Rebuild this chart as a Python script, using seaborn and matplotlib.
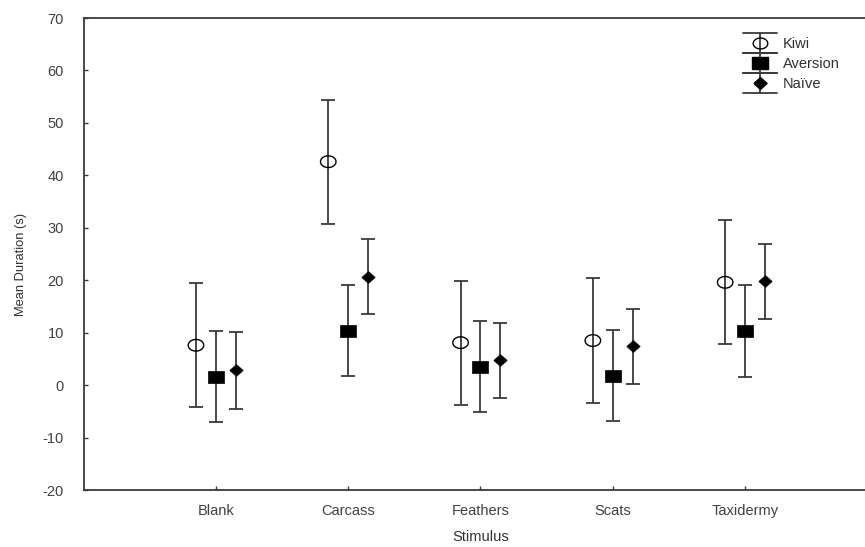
import numpy as np
import pandas as pd
import matplotlib
matplotlib.use("Agg")
import matplotlib.pyplot as plt
import seaborn as sns
from matplotlib.legend_handler import HandlerBase
from matplotlib.lines import Line2D

stimuli = ["Blank", "Carcass", "Feathers", "Scats", "Taxidermy"]
groups = ["Kiwi", "Aversion", "Naïve"]

kiwi_mean = [7.6, 42.6, 8.1, 8.5, 19.6]
kiwi_err = [11.8, 11.8, 11.8, 11.9, 11.8]
aversion_mean = [1.6, 10.4, 3.5, 1.8, 10.3]
aversion_err = [8.7, 8.7, 8.7, 8.7, 8.7]
naive_mean = [2.8, 20.7, 4.7, 7.4, 19.8]
naive_err = [7.3, 7.2, 7.1, 7.2, 7.2]

means = {"Kiwi": kiwi_mean, "Aversion": aversion_mean, "Naïve": naive_mean}
errs = {"Kiwi": kiwi_err, "Aversion": aversion_err, "Naïve": naive_err}

sns.set_theme(style="ticks")
plt.rcParams["font.family"] = ["Liberation Sans", "DejaVu Sans"]
plt.rcParams["axes.unicode_minus"] = False

INK = "#3a3a3a"

# slightly wide marker shapes
t = np.linspace(0, 2 * np.pi, 41)
ellipse = np.column_stack([np.cos(t), 0.75 * np.sin(t)])
rect = np.array([[-1, -0.75], [1, -0.75], [1, 0.75], [-1, 0.75], [-1, -0.75]])
diamond = np.array([[-1, 0], [0, -0.9], [1, 0], [0, 0.9], [-1, 0]])

offsets = {"Kiwi": -0.15, "Aversion": 0.0, "Naïve": 0.15}
marker_style = {
    "Kiwi": dict(marker=ellipse, s=125, facecolor="none", edgecolor="black", linewidth=1.0),
    "Aversion": dict(marker=rect, s=135, facecolor="black", edgecolor="black", linewidth=0.5),
    "Naïve": dict(marker=diamond, s=92, facecolor="black", edgecolor="black", linewidth=0.5),
}

rows = []
for g in groups:
    for i, s in enumerate(stimuli):
        rows.append(dict(stimulus=s, group=g, pos=i + 1 + offsets[g],
                         mean=means[g][i], err=errs[g][i]))
df = pd.DataFrame(rows)

fig = plt.figure(figsize=(8.65, 5.47), dpi=100)
ax = fig.add_axes([83.5 / 865, 1 - 490 / 547, 6 * 132.3 / 865, 472 / 547])

for g in groups:
    sub = df[df["group"] == g]
    ax.errorbar(sub["pos"], sub["mean"], yerr=sub["err"], fmt="none",
                ecolor=INK, elinewidth=1.3, capsize=5, capthick=1.3, zorder=2)
    sns.scatterplot(data=sub, x="pos", y="mean", ax=ax, zorder=3,
                    legend=False, **marker_style[g])

ax.set_xlim(0, 6)
ax.set_ylim(-20, 70)
ax.set_xticks(range(1, 6))
ax.set_xticklabels(stimuli)
ax.set_yticks(np.arange(-20, 71, 10))
ax.tick_params(direction="in", length=3, width=1.0, color=INK,
               labelsize=10.5, labelcolor="#404040")
ax.tick_params(axis="y", pad=14)
ax.tick_params(axis="x", pad=10)
for sp in ax.spines.values():
    sp.set_color(INK)
    sp.set_linewidth(1.3)
ax.set_xlabel("Stimulus", fontsize=10.5, color="#303030", labelpad=9)
ax.set_ylabel("Mean Duration (s)", fontsize=9.3, color="#303030")
ax.yaxis.set_label_coords(-0.071, 0.477)


class CapHandler(HandlerBase):
    def create_artists(self, legend, orig_handle, xdescent, ydescent,
                       width, height, fontsize, trans):
        half = 7.3
        x0, x1 = -xdescent, -xdescent + width
        ym = -ydescent + height / 2
        y0, y1 = ym - half, ym + half
        xm = (x0 + x1) / 2
        top = Line2D([x0, x1], [y1, y1], color=INK, lw=1.3, transform=trans)
        bot = Line2D([x0, x1], [y0, y0], color=INK, lw=1.3, transform=trans)
        vert = Line2D([xm, xm], [y0, y1], color=INK, lw=1.3, transform=trans)
        mk = Line2D([xm], [ym], marker=orig_handle.get_marker(),
                    markersize=orig_handle.get_markersize(),
                    markerfacecolor=orig_handle.get_markerfacecolor(),
                    markeredgecolor="black", linestyle="none", transform=trans)
        return [top, bot, vert, mk]


proxies = [
    Line2D([], [], marker=ellipse, markersize=10.5, markerfacecolor="none"),
    Line2D([], [], marker=rect, markersize=11.5, markerfacecolor="black"),
    Line2D([], [], marker=diamond, markersize=9.5, markerfacecolor="black"),
]
leg = ax.legend(proxies, groups, handler_map={Line2D: CapHandler()},
                loc="upper left", bbox_to_anchor=(743 / 865, 1 - 37 / 547),
                bbox_transform=fig.transFigure, frameon=False, borderpad=0,
                borderaxespad=0, handlelength=2.3, handletextpad=0.45,
                labelspacing=0.42, fontsize=10.5)
for txt in leg.get_texts():
    txt.set_color("#303030")

fig.savefig("out.png", dpi=100)
